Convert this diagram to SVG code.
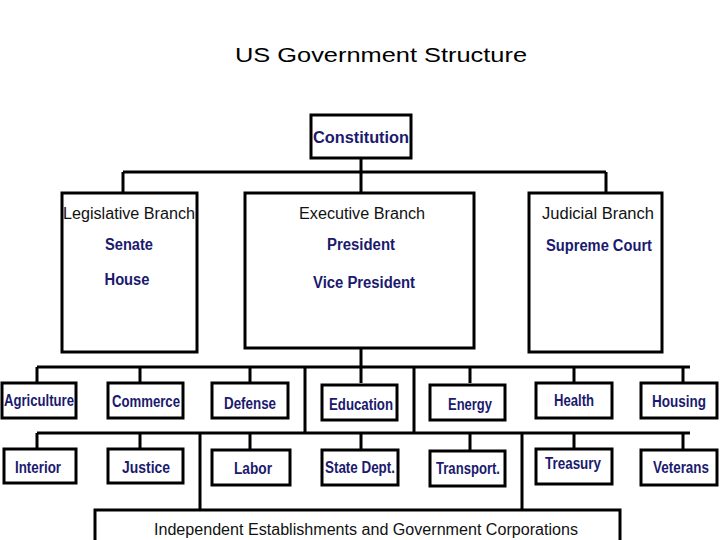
<svg xmlns="http://www.w3.org/2000/svg" width="720" height="540" viewBox="0 0 720 540">
<style>
.b{fill:#fff;stroke:#000;stroke-width:3}
.t{font-family:"Liberation Sans",Arial,sans-serif;font-size:16px;fill:#1a1a6e;text-anchor:middle;font-weight:bold}
.k{fill:#111;font-weight:normal}
.d{font-size:16px}
.c{stroke:#000;stroke-width:3;fill:none}
</style>
<rect width="720" height="540" fill="#fff"/>
<text x="381" y="62" style="font-family:'Liberation Sans',Arial,sans-serif;font-size:20px;text-anchor:middle" textLength="292" lengthAdjust="spacingAndGlyphs">US Government Structure</text>
<g id="connectors" class="c">
<path d="M361 158V172M123 172H606M123 172V193M361 172V193M606 172V193"/>
<path d="M361 348V367M37 367H690M37 367V383M140 367V383M250 367V383M361 367V383M470 367V383M574 367V383M683 367V383"/>
<path d="M305 367V433M414 367V433M37 433H690M37 433V450M140 433V450M250 433V450M361 433V450M470 433V450M574 433V450M683 433V450"/>
<path d="M200 433V510M522 433V510"/>
</g>
<g id="constitution"><rect class="b" x="311" y="115" width="100" height="43"/><text class="t" x="361" y="143" font-size="19" textLength="96" lengthAdjust="spacingAndGlyphs">Constitution</text></g>
<g id="legislative"><rect class="b" x="62" y="193" width="135" height="159"/><text class="t k" x="129" y="219" textLength="132" lengthAdjust="spacingAndGlyphs">Legislative Branch</text><text class="t" x="129" y="250" textLength="48" lengthAdjust="spacingAndGlyphs">Senate</text><text class="t" x="127" y="285" textLength="45" lengthAdjust="spacingAndGlyphs">House</text></g>
<g id="executive"><rect class="b" x="245" y="193" width="229" height="155"/><text class="t k" x="362" y="219" textLength="126" lengthAdjust="spacingAndGlyphs">Executive Branch</text><text class="t" x="361" y="250" textLength="68" lengthAdjust="spacingAndGlyphs">President</text><text class="t" x="364" y="288" textLength="102" lengthAdjust="spacingAndGlyphs">Vice President</text></g>
<g id="judicial"><rect class="b" x="529" y="193" width="133" height="159"/><text class="t k" x="598" y="219" textLength="112" lengthAdjust="spacingAndGlyphs">Judicial Branch</text><text class="t" x="599" y="251" textLength="106" lengthAdjust="spacingAndGlyphs">Supreme Court</text></g>
<g id="agriculture"><rect class="b" x="2" y="383" width="74" height="35"/><text class="t d" x="39" y="406" textLength="70" lengthAdjust="spacingAndGlyphs">Agriculture</text></g>
<g id="commerce"><rect class="b" x="108" y="383" width="75" height="35"/><text class="t d" x="146" y="407" textLength="68" lengthAdjust="spacingAndGlyphs">Commerce</text></g>
<g id="defense"><rect class="b" x="212" y="383" width="76" height="35"/><text class="t d" x="250" y="409" textLength="52" lengthAdjust="spacingAndGlyphs">Defense</text></g>
<g id="education"><rect class="b" x="322" y="385" width="75" height="35"/><text class="t d" x="361" y="410" textLength="64" lengthAdjust="spacingAndGlyphs">Education</text></g>
<g id="energy"><rect class="b" x="430" y="385" width="75" height="35"/><text class="t d" x="470" y="410" textLength="44" lengthAdjust="spacingAndGlyphs">Energy</text></g>
<g id="health"><rect class="b" x="536" y="383" width="76" height="35"/><text class="t d" x="574" y="406" textLength="40" lengthAdjust="spacingAndGlyphs">Health</text></g>
<g id="housing"><rect class="b" x="641" y="383" width="76" height="35"/><text class="t d" x="679" y="407" textLength="54" lengthAdjust="spacingAndGlyphs">Housing</text></g>
<g id="interior"><rect class="b" x="4" y="449" width="72" height="34"/><text class="t d" x="38" y="473" textLength="46" lengthAdjust="spacingAndGlyphs">Interior</text></g>
<g id="justice"><rect class="b" x="108" y="449" width="75" height="34"/><text class="t d" x="146" y="473" textLength="48" lengthAdjust="spacingAndGlyphs">Justice</text></g>
<g id="labor"><rect class="b" x="212" y="450" width="78" height="35"/><text class="t d" x="253" y="474" textLength="38" lengthAdjust="spacingAndGlyphs">Labor</text></g>
<g id="state"><rect class="b" x="322" y="450" width="76" height="35"/><text class="t d" x="360" y="473" textLength="70" lengthAdjust="spacingAndGlyphs">State Dept.</text></g>
<g id="transport"><rect class="b" x="430" y="451" width="75" height="35"/><text class="t d" x="468" y="474" textLength="64" lengthAdjust="spacingAndGlyphs">Transport.</text></g>
<g id="treasury"><rect class="b" x="536" y="449" width="76" height="35"/><text class="t d" x="573" y="469" textLength="56" lengthAdjust="spacingAndGlyphs">Treasury</text></g>
<g id="veterans"><rect class="b" x="641" y="450" width="76" height="35"/><text class="t d" x="681" y="473" textLength="56" lengthAdjust="spacingAndGlyphs">Veterans</text></g>
<g id="independent"><rect class="b" x="95" y="510" width="525" height="40"/><text class="t k" x="366" y="535" font-size="18" textLength="424" lengthAdjust="spacingAndGlyphs">Independent Establishments and Government Corporations</text></g>
</svg>
